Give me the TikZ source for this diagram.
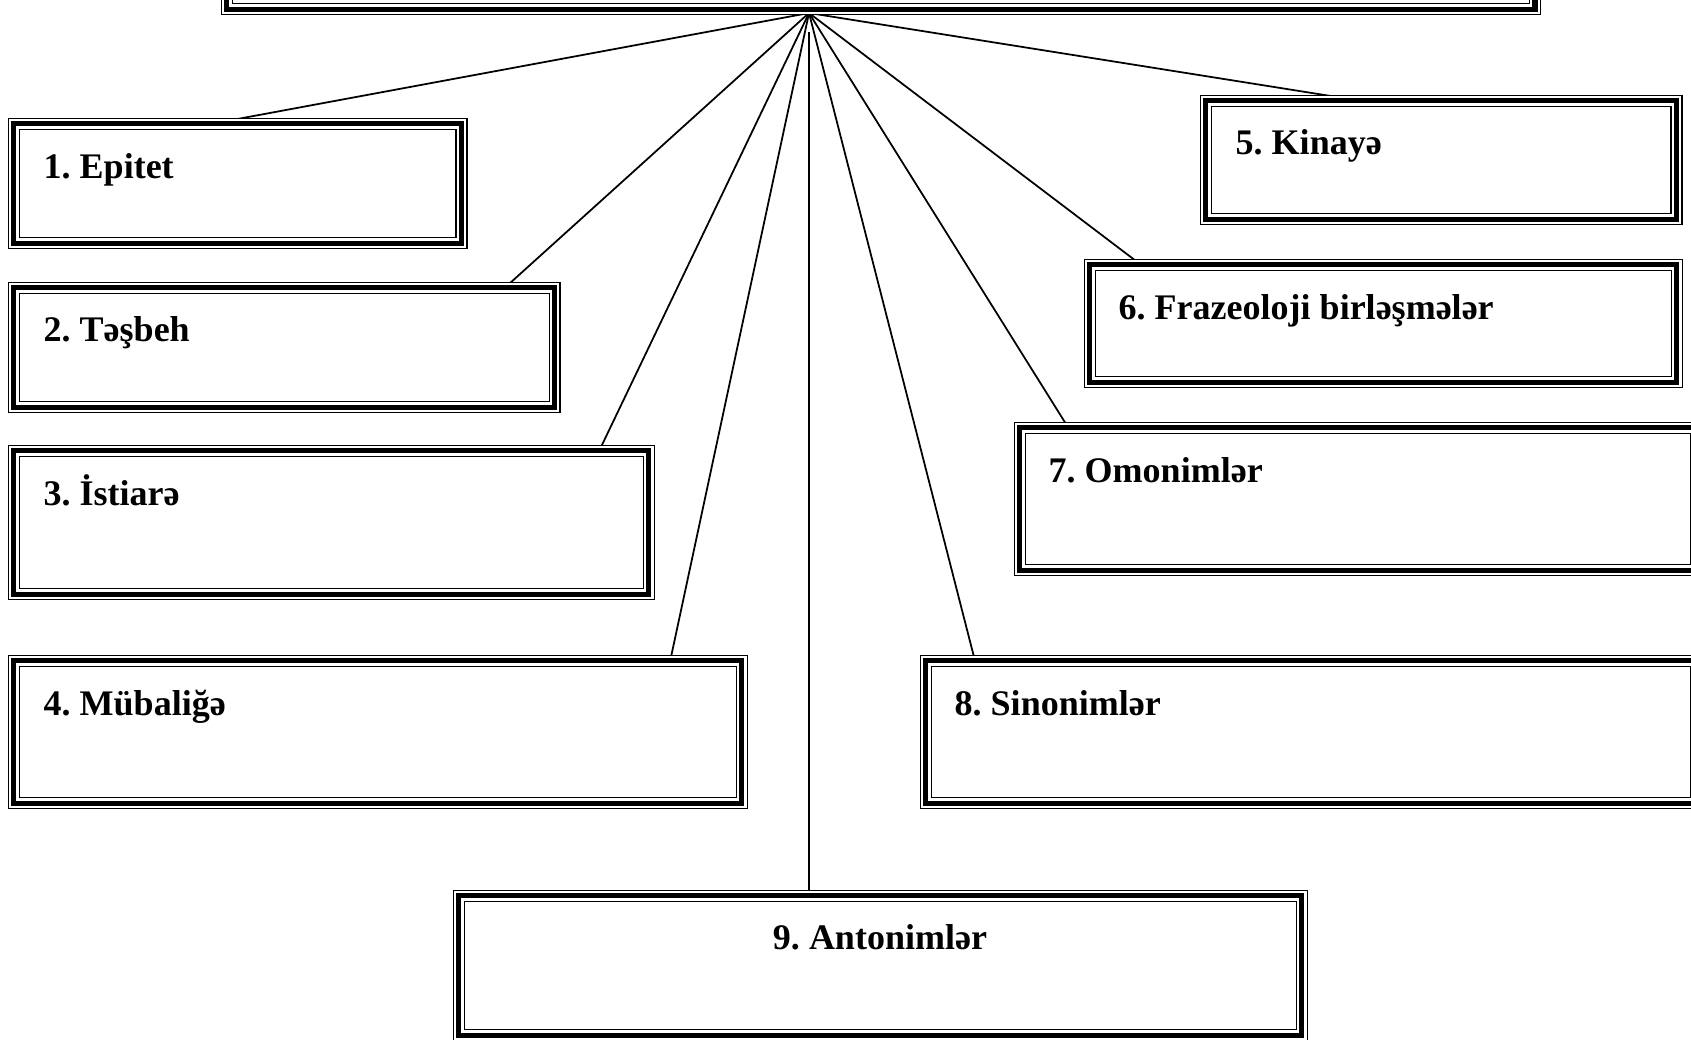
\documentclass[tikz,border=0pt]{standalone}
\usepackage{fontspec}
\setmainfont{Liberation Serif}
\usepackage{tikz}
\frenchspacing

\begin{document}
\begin{tikzpicture}[x=0.01cm, y=-0.01cm,
    tribox/.style={draw, line width=1.5pt, inner sep=0pt, outer sep=0pt, anchor=north west,
      preaction={fill=white, draw, line width=3.45pt},
      preaction={draw=white, line width=2.8pt}},
    lbl/.style={font=\fontsize{10.24}{12}\selectfont\bfseries, inner sep=0pt, anchor=base west},
    spoke/.style={draw, line width=0.5pt}]
  % pixel grid of the page: x to the right, y downwards
  \useasboundingbox (0,0) rectangle (1691,1039);

  % 1. Hub and spokes (drawn first, boxes cover their ends)
  \coordinate (hub) at (809,13);
  \coordinate (stem) at (809,32);
  \draw[spoke] (hub) -- (232,0 |- 0,120);
  \draw[spoke] (hub) -- (509,0 |- 0,284);
  \draw[spoke] (hub) -- (601,0 |- 0,447);
  \draw[spoke] (hub) -- (671,0 |- 0,657);
  \draw[spoke] (hub) -- (1337,0 |- 0,97);
  \draw[spoke] (hub) -- (1136,0 |- 0,261);
  \draw[spoke] (hub) -- (1066,0 |- 0,424);
  \draw[spoke] (hub) -- (974,0 |- 0,657);
  \draw[spoke] (stem) -- (809,0 |- 0,892);

  % 2. Boxes
  \node[tribox, minimum width=13.075cm, minimum height=1.235cm] (b0) at (226.75,-114.25) {};
  \node[tribox, minimum width=4.475cm, minimum height=1.195cm] (b1) at (13.75,123.75) {};
  \node[tribox, minimum width=5.405cm, minimum height=1.195cm] (b2) at (13.75,287.75) {};
  \node[tribox, minimum width=6.345cm, minimum height=1.435cm] (b3) at (13.75,450.75) {};
  \node[tribox, minimum width=7.275cm, minimum height=1.425cm] (b4) at (13.75,660.75) {};
  \node[tribox, minimum width=4.705cm, minimum height=1.185cm] (b5) at (1205.75,100.75) {};
  \node[tribox, minimum width=5.865cm, minimum height=1.175cm] (b6) at (1089.75,264.75) {};
  \node[tribox, minimum width=6.755cm, minimum height=1.425cm] (b7) at (1019.75,427.75) {};
  \node[tribox, minimum width=7.695cm, minimum height=1.425cm] (b8) at (925.75,660.75) {};
  \node[tribox, minimum width=8.425cm, minimum height=1.395cm] (b9) at (458.75,895.75) {};

  % 3. Labels
  \node[lbl] (t1) at (43,178) {1. Epitet};
  \node[lbl] (t2) at (43,341) {2. Təşbeh};
  \node[lbl] (t3) at (43,505) {3. İstiarə};
  \node[lbl] (t4) at (43,715) {4. Mübaliğə};
  \node[lbl] (t5) at (1235,154) {5. Kinayə};
  \node[lbl] (t6) at (1118,319) {6. Frazeoloji birləşmələr};
  \node[lbl] (t7) at (1048,482) {7. Omonimlər};
  \node[lbl] (t8) at (954,715) {8. Sinonimlər};
  \node[lbl, anchor=base] (t9) at (880,949) {9. Antonimlər};
\end{tikzpicture}
\end{document}
